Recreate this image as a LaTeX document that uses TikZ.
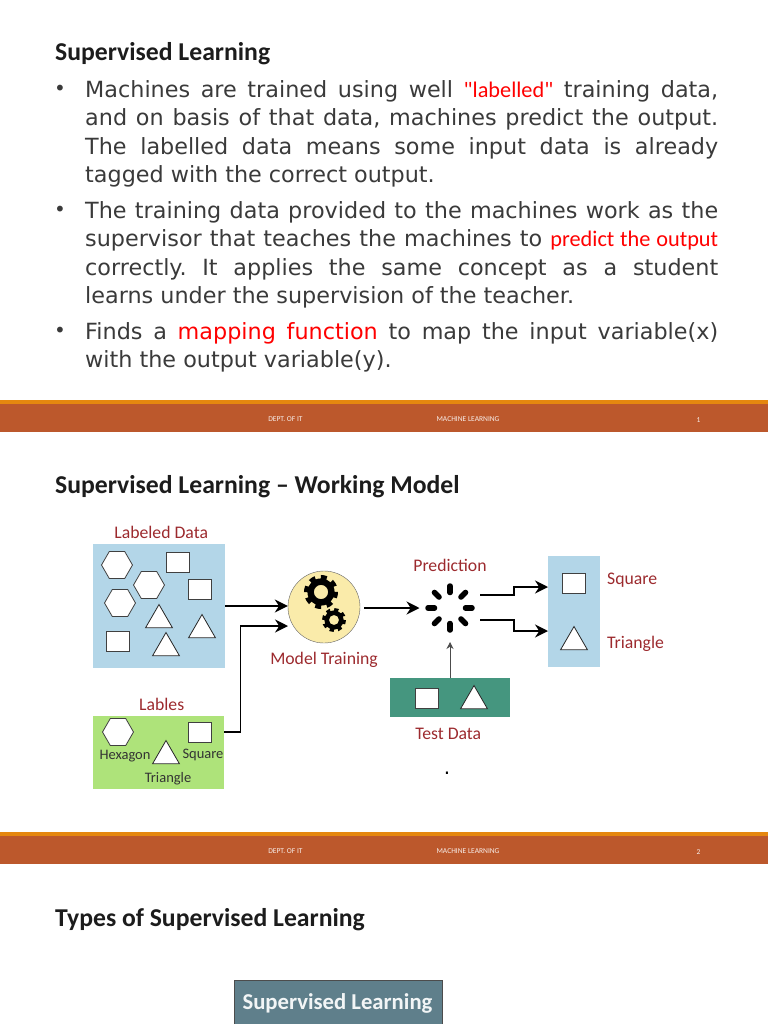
\documentclass[tikz,border=0pt]{standalone}
\usepackage{fontspec}
\usepackage{xcolor}
\usetikzlibrary{arrows.meta,positioning,shapes.geometric}
\setmainfont{DejaVu Sans}
\newfontfamily\carlito{Carlito}
\definecolor{cText}{HTML}{3A3A3A}
\definecolor{cHead}{HTML}{1C1C1C}
\definecolor{cRust}{HTML}{BC582C}
\definecolor{cAmber}{HTML}{E5870F}
\definecolor{cLabel}{HTML}{9C2A2E}
\definecolor{cBlue}{HTML}{B3D6E8}
\definecolor{cGreen}{HTML}{AEE37A}
\definecolor{cTeal}{HTML}{45967F}
\definecolor{cYolk}{HTML}{FAEBAA}
\definecolor{cSlate}{HTML}{5F7F8B}
\newcommand{\hot}[1]{{\carlito\color{red}#1}}
\frenchspacing
\tikzset{
  head/.style ={anchor=west, font=\carlito\bfseries\fontsize{25.7}{30}\selectfont, text=cHead, inner sep=0pt},
  para/.style ={anchor=north west, text width=633pt, align=justify, inner sep=0pt, text=cText,
                font=\fontsize{22.3}{28.3}\selectfont},
  bul/.style  ={inner sep=0pt, text=cText, font=\fontsize{20}{24}\selectfont},
  foot/.style ={font=\carlito\fontsize{7.5}{9}\selectfont, text=white!90!cRust, inner sep=0pt},
  lbl/.style  ={font=\carlito\fontsize{17.7}{20}\selectfont, text=cLabel, inner sep=0pt},
  tag/.style  ={font=\carlito\fontsize{14.5}{18}\selectfont, text=black!80, inner sep=0pt},
  panel/.style={anchor=north west, inner sep=0pt},
  hexa/.style ={draw=black!75, fill=white, line width=.8pt, regular polygon, regular polygon sides=6,
                minimum size=31pt, inner sep=0pt},
  sq/.style   ={draw=black!75, fill=white, line width=.8pt, minimum width=23pt, minimum height=20pt, inner sep=0pt},
  tri/.style  ={draw=black!85, fill=white, line width=.8pt, regular polygon, regular polygon sides=3,
                minimum size=31pt, inner sep=0pt},
  arrow/.style={-{Stealth[length=13pt,width=13pt]}, line width=1.5pt, draw=black},
  thin/.style ={-{Stealth[length=7pt,width=7pt]}, line width=.8pt, draw=black!70},
  cog/.pic={
    \fill[black, even odd rule] (0,0) circle (.8*#1) (0,0) circle (.42*#1);
    \draw[black, line width=.24*#1, dash pattern=on .345*#1 pt off .345*#1 pt] (0,0) circle (.88*#1);
  },
}
\begin{document}
\begin{tikzpicture}[x=1pt,y=-1pt]
    \useasboundingbox (0,0) rectangle (768,1024);
    % first slide
    \node[head] (h1) at (55,53.5) {Supervised Learning};
    \node[bul] (b1) at (60,90) {•};
    \node[para] (p1) at (85,80.5) {Machines are trained using well \hot{"labelled"} training data,\linebreak and on basis of that data, machines predict the output.\linebreak The labelled data means some input data is already\linebreak tagged with the correct output.};
    \node[bul] (b2) at (60,211) {•};
    \node[para] (p2) at (85,201.5) {The training data provided to the machines work as the\linebreak supervisor that teaches the machines to \hot{predict the output}\linebreak correctly. It applies the same concept as a student\linebreak learns under the supervision of the teacher.};
    \node[bul] (b3) at (60,332) {•};
    \node[para] (p3) at (85,322.5) {Finds a {\color{red}mapping function} to map the input variable(x)\linebreak with the output variable(y).};
    % footers
    \foreach \y/\n in {400/1,832/2}{
      \fill[cAmber] (0,\y) rectangle (768,\y+4);
      \fill[cRust] (0,\y+4) rectangle (768,\y+32);
      \node[foot] (dept\n) at (285.5,\y+19.5) {DEPT. OF IT};
      \node[foot] (ml\n) at (468,\y+19.5) {MACHINE LEARNING};
      \node[foot] (pg\n) at (698.5,\y+20) {\n};
    }
    % second slide
    \node[head] (h2) at (55,486.5) {Supervised Learning – Working Model};
    \node[panel, fill=cBlue, minimum width=132pt, minimum height=124pt] (data) at (93,544) {};
    \node[lbl, above=5pt of data, xshift=2pt] (datat) {Labeled Data};
    \node[hexa] (d1) at (117,565) {};
    \node[hexa] (d2) at (149,585) {};
    \node[hexa] (d3) at (120,603) {};
    \node[sq] (d4) at (178,562) {};
    \node[sq] (d5) at (200,589) {};
    \node[sq] (d6) at (118,641) {};
    \node[tri] (d7) at (159,620) {};
    \node[tri] (d8) at (202,630) {};
    \node[tri] (d9) at (166,648) {};
    \node[panel, fill=cGreen, minimum width=131pt, minimum height=73pt] (lab) at (93,716) {};
    \node[lbl, above=5pt of lab, xshift=3pt] (labt) {Lables};
    \node[hexa] (l1) at (118,732) {};
    \node[sq] (l2) at (200,732) {};
    \node[tri] (l3) at (166,756) {};
    \node[tag] (l4) at (125,756) {Hexagon};
    \node[tag] (l5) at (203,755) {Square};
    \node[tag] (l6) at (168,778.5) {Triangle};
    \node[draw=black!60, fill=cYolk, circle, minimum size=72pt, inner sep=0pt] (train) at (324,607) {};
    \pic at (321,592) {cog=17};
    \pic at (334,620) {cog=12};
    \node[lbl, below=9pt of train] (traint) {Model Training};
    \node[circle, minimum size=60pt, inner sep=0pt] (spin) at (450,608) {};
    \foreach \a in {0,45,...,315}
      \draw[line width=5.5pt, line cap=round, black] (spin.center) ++(\a:15.5) -- ++(\a:6.5);
    \node[lbl, above=6pt of spin] (spint) {Prediction};
    \node[panel, fill=cBlue, minimum width=52pt, minimum height=111pt] (out) at (548,556) {};
    \node[sq] (o1) at (574,583) {};
    \node[tri] (o2) at (574,642) {};
    \node[lbl, anchor=west] (o1t) at (607,580) {Square};
    \node[lbl, anchor=west] (o2t) at (607,644) {Triangle};
    \node[panel, fill=cTeal, minimum width=120pt, minimum height=39pt] (test) at (390,678) {};
    \node[sq] (t1) at (427,698) {};
    \node[tri] (t2) at (474,701) {};
    \node[lbl, below=11pt of test, xshift=-2pt] (testt) {Test Data};
    \node[inner sep=0pt, font=\fontsize{20}{22}\selectfont] (dot) at (447,773) {.};
    \coordinate (a1) at (data.east |- 0,606);
    \coordinate (a2) at (train.west |- 0,606);
    \coordinate (g1) at (lab.east |- 0,732);
    \coordinate (g2) at (288,626);
    \coordinate (s1) at (480,595);
    \coordinate (s2) at (480,620);
    \coordinate (e1) at (out.west |- 0,587);
    \coordinate (e2) at (out.west |- 0,631);
    \draw[arrow] (a1) -- (a2);
    \draw[arrow] (g1) -- (240.5,732) -- (240.5,626) -- (g2);
    \draw[arrow] (364,608) -- (419.5,608);
    \draw[arrow] (s1) -- (514,595) -- (514,587) -- (e1);
    \draw[arrow] (s2) -- (514,620) -- (514,631) -- (e2);
    \draw[thin] (test.north -| spin) -- (450,642);
    % third slide
    \node[head] (h3) at (55,919.5) {Types of Supervised Learning};
    \node[panel, draw=black!70, line width=1pt, fill=cSlate, minimum width=208pt, minimum height=70pt] (sup) at (233.5,979.5) {};
    \node[font=\carlito\bfseries\fontsize{22.7}{28}\selectfont, text=white!92!cSlate, inner sep=0pt] (supt) at (337.5,1003) {Supervised Learning};
\end{tikzpicture}
\end{document}
